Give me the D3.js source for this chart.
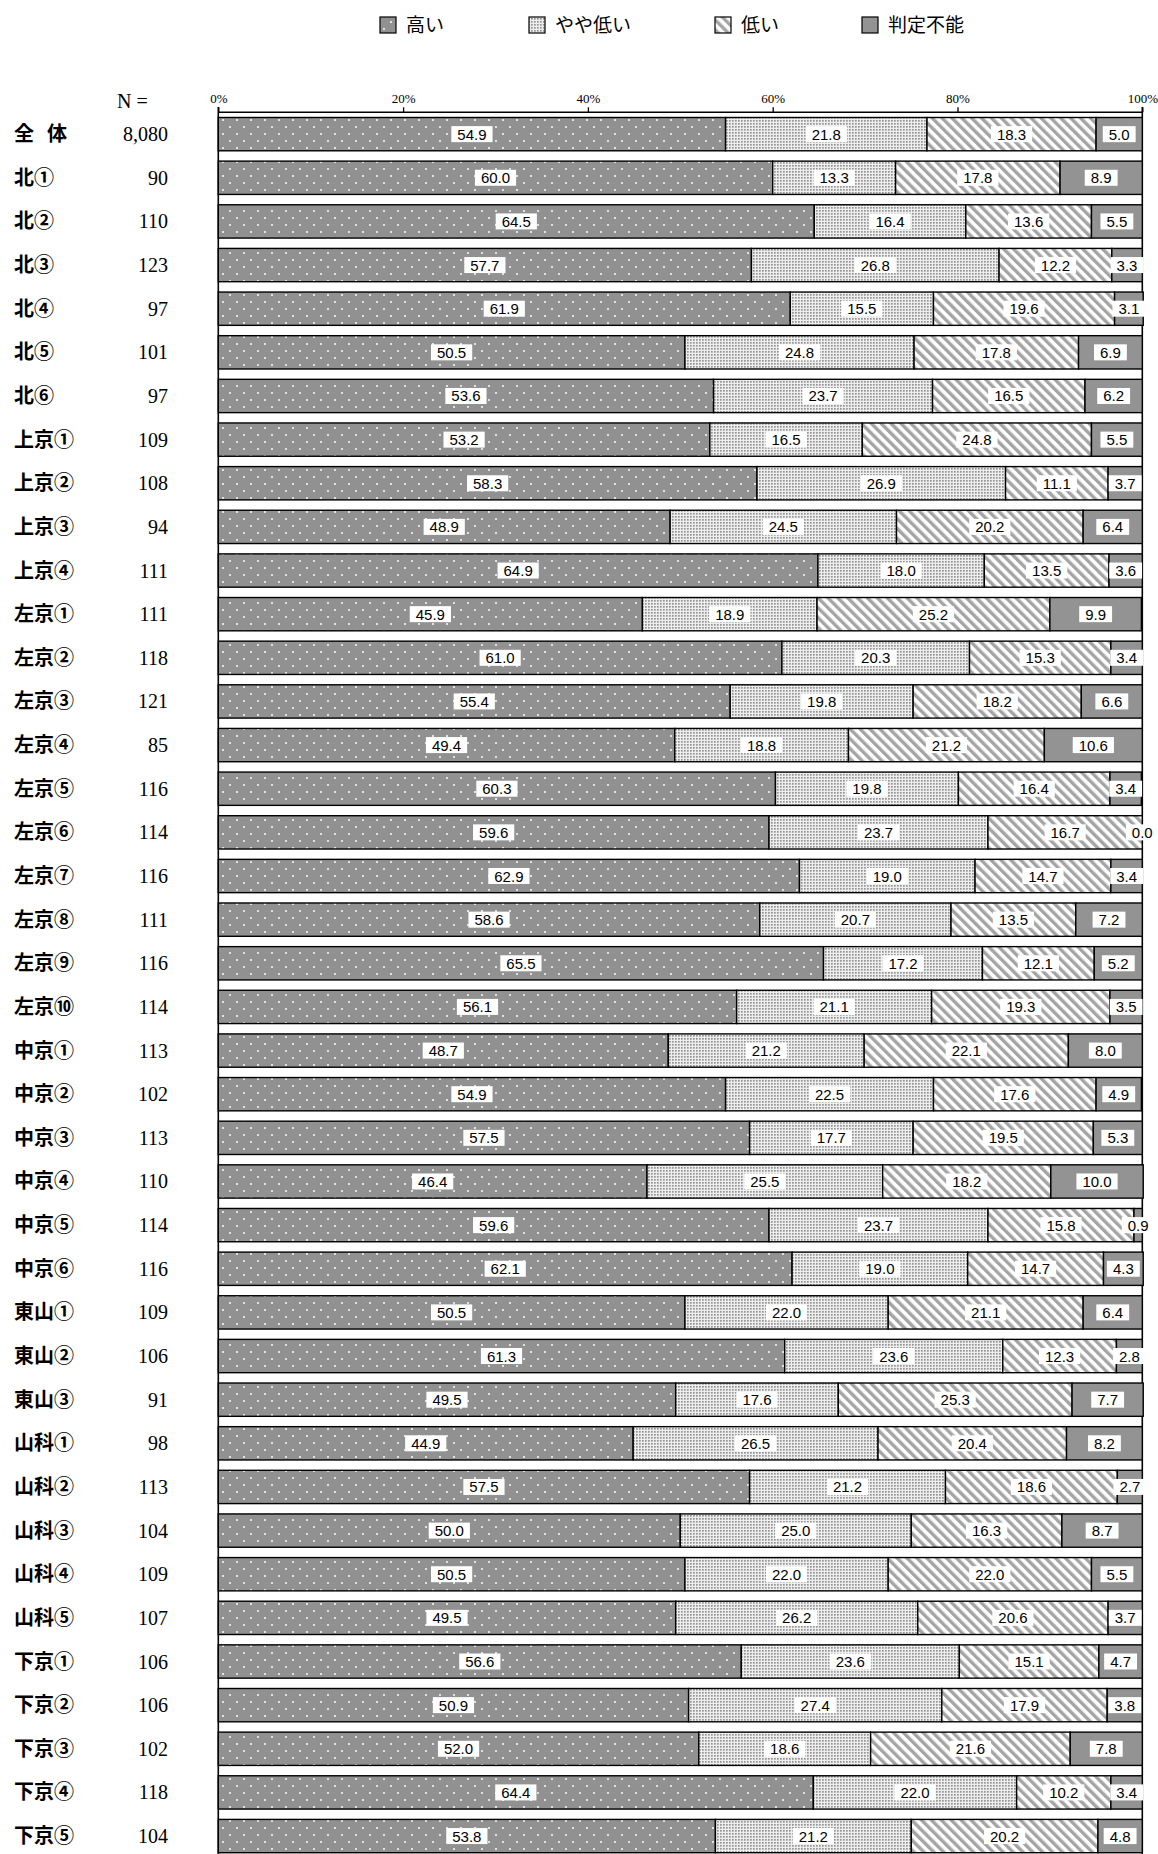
<!DOCTYPE html>
<html><head><meta charset="utf-8">
<script src="https://cdn.jsdelivr.net/npm/d3@7/dist/d3.min.js"></script>
<style>body{margin:0;background:#fff}svg{display:block}</style>
</head><body>
<script>
const categories = ["全　体","北①","北②","北③","北④","北⑤","北⑥","上京①","上京②","上京③","上京④",
 "左京①","左京②","左京③","左京④","左京⑤","左京⑥","左京⑦","左京⑧","左京⑨","左京⑩",
 "中京①","中京②","中京③","中京④","中京⑤","中京⑥","東山①","東山②","東山③",
 "山科①","山科②","山科③","山科④","山科⑤","下京①","下京②","下京③","下京④","下京⑤"];
const nValues = ["8,080","90","110","123","97","101","97","109","108","94","111",
 "111","118","121","85","116","114","116","111","116","114",
 "113","102","113","110","114","116","109","106","91",
 "98","113","104","109","107","106","106","102","118","104"];
const seriesNames = ["高い","やや低い","低い","判定不能"];
const high = [54.9,60.0,64.5,57.7,61.9,50.5,53.6,53.2,58.3,48.9,64.9,
 45.9,61.0,55.4,49.4,60.3,59.6,62.9,58.6,65.5,56.1,
 48.7,54.9,57.5,46.4,59.6,62.1,50.5,61.3,49.5,
 44.9,57.5,50.0,50.5,49.5,56.6,50.9,52.0,64.4,53.8];
const slightlyLow = [21.8,13.3,16.4,26.8,15.5,24.8,23.7,16.5,26.9,24.5,18.0,
 18.9,20.3,19.8,18.8,19.8,23.7,19.0,20.7,17.2,21.1,
 21.2,22.5,17.7,25.5,23.7,19.0,22.0,23.6,17.6,
 26.5,21.2,25.0,22.0,26.2,23.6,27.4,18.6,22.0,21.2];
const low = [18.3,17.8,13.6,12.2,19.6,17.8,16.5,24.8,11.1,20.2,13.5,
 25.2,15.3,18.2,21.2,16.4,16.7,14.7,13.5,12.1,19.3,
 22.1,17.6,19.5,18.2,15.8,14.7,21.1,12.3,25.3,
 20.4,18.6,16.3,22.0,20.6,15.1,17.9,21.6,10.2,20.2];
const undetermined = [5.0,8.9,5.5,3.3,3.1,6.9,6.2,5.5,3.7,6.4,3.6,
 9.9,3.4,6.6,10.6,3.4,0.0,3.4,7.2,5.2,3.5,
 8.0,4.9,5.3,10.0,0.9,4.3,6.4,2.8,7.7,
 8.2,2.7,8.7,5.5,3.7,4.7,3.8,7.8,3.4,4.8];
const tickValues = [0,20,40,60,80,100];

const W = 1158, H = 1854;
const svg = d3.select("body").append("svg").attr("width", W).attr("height", H);
const defs = svg.append("defs");

// patterns
const pHigh = defs.append("pattern").attr("id","p0").attr("patternUnits","userSpaceOnUse")
  .attr("width",14).attr("height",14).attr("x",218).attr("y",118);
pHigh.append("rect").attr("width",14).attr("height",14).attr("fill","#919191");
pHigh.append("rect").attr("x",4).attr("y",1).attr("width",2).attr("height",2).attr("fill","#e2e2e2");
pHigh.append("rect").attr("x",11).attr("y",8).attr("width",2).attr("height",2).attr("fill","#e2e2e2");

const pMid = defs.append("pattern").attr("id","p1").attr("patternUnits","userSpaceOnUse")
  .attr("width",3).attr("height",3);
pMid.append("rect").attr("width",3).attr("height",3).attr("fill","#eeeeee");
pMid.append("rect").attr("width",1.7).attr("height",1.7).attr("fill","#959595");

const pLow = defs.append("pattern").attr("id","p2").attr("patternUnits","userSpaceOnUse")
  .attr("width",7).attr("height",7).attr("patternTransform","rotate(-45)");
pLow.append("rect").attr("width",7).attr("height",7).attr("fill","#ffffff");
pLow.append("rect").attr("width",3.4).attr("height",7).attr("fill","#a4a4a4");

const fills = ["url(#p0)","url(#p1)","url(#p2)","#939393"];

const x = d3.scaleLinear().domain([0,100]).range([218.3,1142.3]);
const y = d3.scaleBand().domain(categories).range([112.3, 112.3 + 40*43.64])
  .paddingInner(0.237).paddingOuter(0.119);

// stacked data
const table = categories.map((c,i)=>({cat:c, n:nValues[i], "高い":high[i], "やや低い":slightlyLow[i], "低い":low[i], "判定不能":undetermined[i]}));
const stack = d3.stack().keys(seriesNames)(table);

// axis frame lines
const axis = d3.axisTop(x).tickValues(tickValues).tickFormat(d=>d+"%").tickSize(5).tickPadding(4);
const gAx = svg.append("g").attr("transform","translate(0,112.3)").call(axis);
gAx.select(".domain").attr("stroke","#000").attr("stroke-width",1.5).attr("d",`M${x(0)},0H${x(100)}`);
gAx.selectAll(".tick line").attr("stroke","#000").attr("stroke-width",1.3);
gAx.selectAll(".tick text").attr("font-family","'Liberation Serif', serif").attr("font-size",13).attr("fill","#000");

svg.append("line").attr("x1",x(0)).attr("x2",x(0)).attr("y1",107).attr("y2",H).attr("stroke","#000").attr("stroke-width",1.6);
svg.append("line").attr("x1",x(100)).attr("x2",x(100)).attr("y1",107).attr("y2",H).attr("stroke","#000").attr("stroke-width",1.6);

// bars
const gBars = svg.append("g");
stack.forEach((s,si)=>{
  gBars.append("g").selectAll("rect").data(s).join("rect")
    .attr("x",d=>x(d[0])).attr("width",d=>Math.max(0,x(d[1])-x(d[0])))
    .attr("y",d=>y(d.data.cat)).attr("height",y.bandwidth())
    .attr("fill",fills[si]).attr("stroke","#000").attr("stroke-width",1.4);
});

// value labels
const gLab = svg.append("g");
stack.forEach((s,si)=>{
  s.forEach(d=>{
    const v = d.data[seriesNames[si]];
    const cx = (x(d[0])+x(d[1]))/2;
    const cy = y(d.data.cat)+y.bandwidth()/2;
    const g = gLab.append("g");
    const r = g.append("rect").attr("fill","#fff");
    const t = g.append("text").attr("x",cx).attr("y",cy+5.5).attr("text-anchor","middle")
      .attr("font-family","'Liberation Sans', Arial, sans-serif").attr("font-size",15).attr("fill","#000")
      .text(v.toFixed(1));
    const w = t.node().getComputedTextLength();
    r.attr("x",cx-w/2-6).attr("y",cy-8).attr("width",w+12).attr("height",16);
  });
});

// category labels
svg.append("g").selectAll("text").data(table).join("text")
  .attr("x",14).attr("y",d=>y(d.cat)+y.bandwidth()/2+7)
  .attr("font-family","'Noto Sans CJK JP', sans-serif").attr("font-weight","bold").attr("font-size",20)
  .attr("letter-spacing",d=>d.cat==="全　体"?"-3.5px":null)
  .attr("fill","#000").text(d=>d.cat);

// N values
svg.append("text").attr("x",117).attr("y",108).attr("font-family","'Liberation Serif', serif")
  .attr("font-size",20).text("N =");
svg.append("g").selectAll("text").data(table).join("text")
  .attr("x",168).attr("y",d=>y(d.cat)+y.bandwidth()/2+7).attr("text-anchor","end")
  .attr("font-family","'Liberation Serif', serif").attr("font-size",20).attr("fill","#000").text(d=>d.n);

// legend
const legX = [380,529,715,862];
const gLeg = svg.append("g");
seriesNames.forEach((nm,i)=>{
  gLeg.append("rect").attr("x",legX[i]).attr("y",17).attr("width",16).attr("height",16)
    .attr("fill",fills[i]).attr("stroke","#000").attr("stroke-width",1.2);
  gLeg.append("text").attr("x",legX[i]+26).attr("y",32)
    .attr("font-family","'Noto Sans CJK JP', sans-serif").attr("font-size",19).attr("fill","#000").text(nm);
});
</script>
</body></html>
